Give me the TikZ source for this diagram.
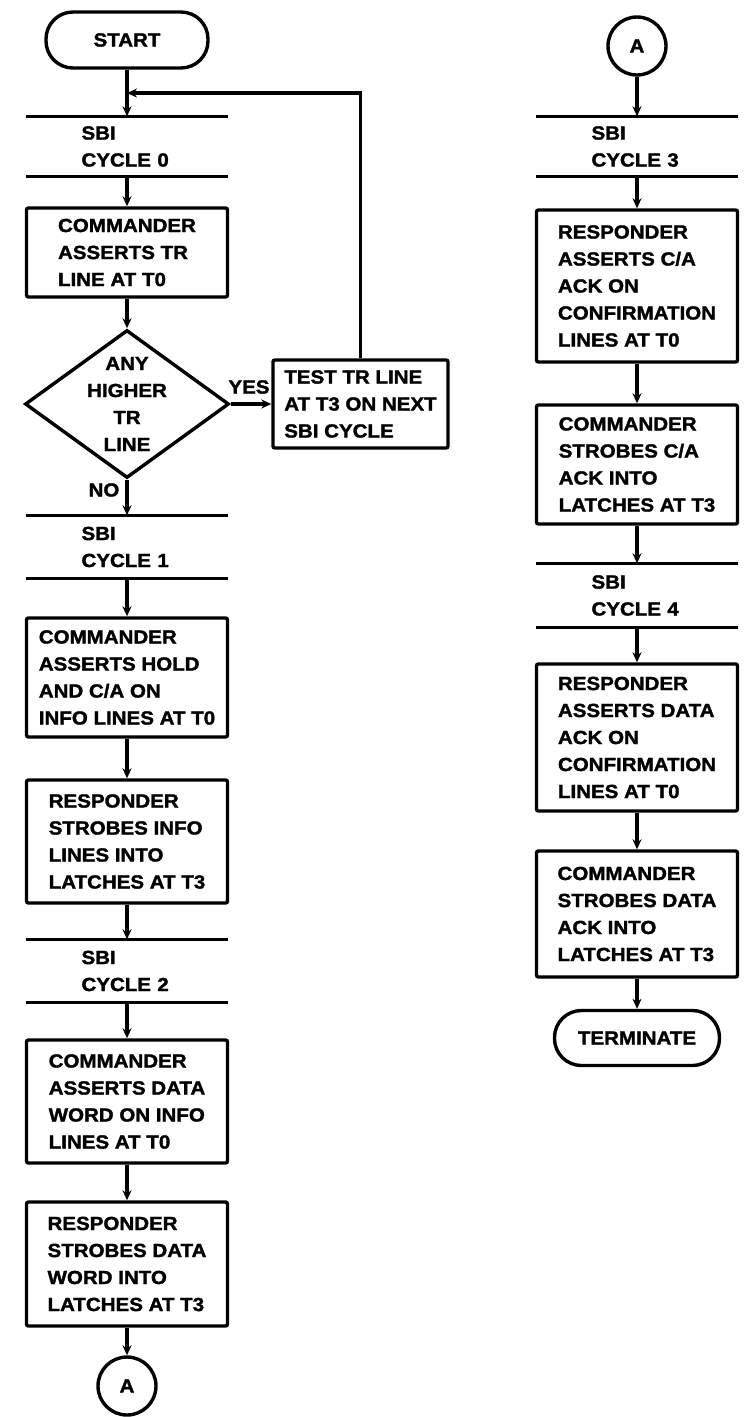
\documentclass[tikz,border=0pt]{standalone}
\usepackage{fontspec}
\setmainfont{Liberation Sans}[FakeStretch=1.08,BoldFeatures={FakeBold=1.6}]
\usetikzlibrary{arrows.meta,shapes.geometric}
\begin{document}
\begin{tikzpicture}[x=1pt,y=-1pt,line width=3.4pt,
	font=\fontsize{19pt}{27pt}\selectfont\bfseries,
	box/.style={draw,rounded corners=2pt,minimum width=201pt,minimum height=#1,align=left,inner sep=0pt},
	band/.style={minimum width=199pt,minimum height=#1,text width=91pt,align=left,inner sep=0pt},
	term/.style={draw,rounded corners=27pt,minimum width=162pt,minimum height=56pt,inner sep=0pt},
	conn/.style={draw,circle,minimum size=58pt,inner sep=0pt},
	arr/.style={-{Stealth[length=10pt,width=9pt]}}]
	\useasboundingbox (0,0) rectangle (752,1417);

		    \node[term] (ST) at (127,40) {START};
		    \coordinate (J) at (127,93);
		    \node[band=57pt] (C0) at (127,146.5) {SBI\\CYCLE 0};
		    \node[box=89pt] (B1) at (127,252.5) {COMMANDER\\ASSERTS TR\\LINE AT T0};
		    \node[draw,diamond,minimum width=204pt,minimum height=148pt,inner sep=0pt] (DQ) at (127,404) {};
		    \node[align=center,inner sep=0pt] (DT) at (DQ) {ANY\\HIGHER\\TR\\LINE};
		    \node[box=88pt,minimum width=175pt] (TT) at (360.5,404) {TEST TR LINE\\AT T3 ON NEXT\\SBI CYCLE};
		    \node[inner sep=0pt] (YS) at (249,387) {YES};
		    \node[inner sep=0pt] (NO) at (104,490) {NO};
		    \node[band=60pt] (C1) at (127,547) {SBI\\CYCLE 1};
		    \node[box=119pt] (B2) at (127,677.5) {COMMANDER\\ASSERTS HOLD\\AND C/A ON\\INFO LINES AT T0};
		    \node[box=123pt] (B3) at (127,841.5) {RESPONDER\\STROBES INFO\\LINES INTO\\LATCHES AT T3};
		    \node[band=60pt] (C2) at (127,971) {SBI\\CYCLE 2};
		    \node[box=123pt] (B4) at (127,1101.5) {COMMANDER\\ASSERTS DATA\\WORD ON INFO\\LINES AT T0};
		    \node[box=124pt] (B5) at (127,1264) {RESPONDER\\STROBES DATA\\WORD INTO\\LATCHES AT T3};
		    \node[conn] (AL) at (127,1386) {A};

		    \node[conn] (AR) at (637,46) {A};
		    \node[band=57pt] (C3) at (637,146.5) {SBI\\CYCLE 3};
		    \node[box=152pt] (B6) at (637,286) {RESPONDER\\ASSERTS C/A\\ACK ON\\CONFIRMATION\\LINES AT T0};
		    \node[box=119pt] (B7) at (637,464.5) {COMMANDER\\STROBES C/A\\ACK INTO\\LATCHES AT T3};
		    \node[band=61pt] (C4) at (637,595.5) {SBI\\CYCLE 4};
		    \node[box=147pt] (B8) at (637,737.5) {RESPONDER\\ASSERTS DATA\\ACK ON\\CONFIRMATION\\LINES AT T0};
		    \node[box=126pt] (B9) at (637,914) {COMMANDER\\STROBES DATA\\ACK INTO\\LATCHES AT T3};
		    \node[term,minimum width=165pt,minimum height=55pt] (TM) at (637,1038) {TERMINATE};

		    \draw (C0.north west)--(C0.north east) (C0.south west)--(C0.south east);
		    \draw (C1.north west)--(C1.north east) (C1.south west)--(C1.south east);
		    \draw (C2.north west)--(C2.north east) (C2.south west)--(C2.south east);
		    \draw (C3.north west)--(C3.north east) (C3.south west)--(C3.south east);
		    \draw (C4.north west)--(C4.north east) (C4.south west)--(C4.south east);

		    \draw[arr] (ST)--(C0.north);
		    \draw[arr] (TT.north) |- (J);
		    \draw[arr] (C0.south)--(B1);
		    \draw[arr] (B1)--(DQ);
		    \draw[arr] (DQ.east)--(TT.west);
		    \draw[arr] (DQ)--(C1.north);
		    \draw[arr] (C1.south)--(B2);
		    \draw[arr] (B2)--(B3);
		    \draw[arr] (B3)--(C2.north);
		    \draw[arr] (C2.south)--(B4);
		    \draw[arr] (B4)--(B5);
		    \draw[arr] (B5)--(AL);

		    \draw[arr] (AR)--(C3.north);
		    \draw[arr] (C3.south)--(B6);
		    \draw[arr] (B6)--(B7);
		    \draw[arr] (B7)--(C4.north);
		    \draw[arr] (C4.south)--(B8);
		    \draw[arr] (B8)--(B9);
		    \draw[arr] (B9)--(TM);
\end{tikzpicture}
\end{document}
